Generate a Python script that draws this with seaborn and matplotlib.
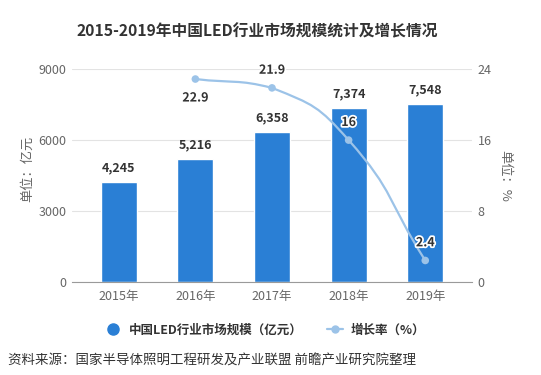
import numpy as np
import pandas as pd
import matplotlib
matplotlib.use('Agg')
import matplotlib.pyplot as plt
import matplotlib.patheffects as pe
from matplotlib.path import Path
from matplotlib.patches import PathPatch
from matplotlib.lines import Line2D
import seaborn as sns

# 数据
years = ['2015年', '2016年', '2017年', '2018年', '2019年']
market_size = [4245, 5216, 6358, 7374, 7548]  # 亿元
growth_years = ['2016年', '2017年', '2018年', '2019年']
growth_rate = [22.9, 21.9, 16, 2.4]  # %

sns.set_style('white')
plt.rcParams['font.family'] = ['Noto Sans CJK SC', 'DejaVu Sans']

bar_color = '#2a7fd5'
line_color = '#9cc3e8'
grid_color = '#e3e3e3'
tick_color = '#666666'
text_color = '#333333'

W, H = 541, 375
fig = plt.figure(figsize=(W / 100, H / 100), dpi=100)
ax = fig.add_axes([72 / W, 1 - 281.7 / H, 400 / W, 212.4 / H])

df = pd.DataFrame({'year': years, 'size': market_size})
sns.barplot(data=df, x='year', y='size', color=bar_color, saturation=1,
            width=0.47, ax=ax)
ax.set_xlim(-0.61, 4.61)
ax.set_ylim(0, 9000)
ax.set_yticks([0, 3000, 6000, 9000])
ax.grid(axis='y', color=grid_color, lw=0.8)
ax.set_axisbelow(True)
for s in ['top', 'right', 'left']:
    ax.spines[s].set_visible(False)
ax.spines['bottom'].set_color('#9a9a9a')
ax.tick_params(axis='x', length=4, width=0.8, color='#9a9a9a', labelsize=9,
               labelcolor=tick_color, pad=2)
ax.tick_params(axis='y', length=0, labelsize=9, labelcolor=tick_color, pad=4)
ax.set_xlabel('')
ax.set_ylabel('单位：亿元', color=tick_color, fontsize=9.5, va='center', ha='center')
ax.yaxis.set_label_coords(-0.11, 0.53)

# 柱子数值标签
for i, v in enumerate(market_size):
    ax.annotate(f'{v:,}', (i, v), xytext=(0, 5), textcoords='offset points',
                ha='center', va='bottom', fontsize=9, fontweight='bold',
                color=text_color)

# 增长率 (右轴)
ax2 = ax.twinx()
ax2.set_ylim(0, 24)
ax2.set_yticks([0, 8, 16, 24])
for s in ['top', 'right', 'left', 'bottom']:
    ax2.spines[s].set_visible(False)
ax2.tick_params(axis='y', length=0, labelsize=9, labelcolor=tick_color, pad=4)
ax2.set_ylabel('单位：%', color=tick_color, fontsize=9.5, rotation=-90,
               va='center', ha='center')
ax2.yaxis.set_label_coords(1.0825, 0.50)

pos = [years.index(y) for y in growth_years]

# 平滑曲线 (像素空间里计算贝塞尔控制点, y 方向不越过相邻点)
pts = ax2.transData.transform(np.column_stack([pos, growth_rate]))
smooth = 0.5
n = len(pts)
cps = []
for i in range(n):
    p = pts[i]
    prev = pts[i - 1] if i > 0 else p
    nxt = pts[i + 1] if i < n - 1 else p
    v = nxt - prev
    d0 = np.hypot(*(p - prev))
    d1 = np.hypot(*(p - nxt))
    tot = d0 + d1
    c0 = p - v * smooth * d0 / tot
    c1 = p + v * smooth * d1 / tot
    c0[1] = np.clip(c0[1], min(prev[1], p[1]), max(prev[1], p[1]))
    c1[1] = np.clip(c1[1], min(nxt[1], p[1]), max(nxt[1], p[1]))
    cps.append((c0, c1))
verts = [pts[0]]
codes = [Path.MOVETO]
for i in range(n - 1):
    verts += [cps[i][1], cps[i + 1][0], pts[i + 1]]
    codes += [Path.CURVE4] * 3
verts = ax2.transData.inverted().transform(np.array(verts))
ax2.add_patch(PathPatch(Path(verts, codes), facecolor='none',
                        edgecolor=line_color, lw=1.6, zorder=3))
sns.scatterplot(x=pos, y=growth_rate, ax=ax2, color=line_color, s=30,
                edgecolor='none', zorder=4, legend=False)

for i, (x, v) in enumerate(zip(pos, growth_rate)):
    dy = -9 if i == 0 else 8
    ax2.annotate(f'{v:g}', (x, v), xytext=(0, dy), textcoords='offset points',
                 ha='center', va='top' if dy < 0 else 'bottom', fontsize=9,
                 fontweight='bold', color=text_color, zorder=5,
                 path_effects=[pe.withStroke(linewidth=2.5, foreground='white')])

# 标题
fig.text(257 / W, 1 - 31 / H, '2015-2019年中国LED行业市场规模统计及增长情况',
         ha='center', va='center', fontsize=11.3, fontweight='bold',
         color=text_color)

# 图例
handles = [
    Line2D([], [], ls='none', marker='o', markersize=8, color=bar_color),
    Line2D([], [], color=line_color, lw=1.6, marker='o', markersize=5),
]
fig.legend(handles, ['中国LED行业市场规模（亿元）', '增长率（%）'],
           loc='center', bbox_to_anchor=(265 / W, 1 - 330 / H), ncol=2,
           frameon=False, handlelength=1.3, handletextpad=0.6, columnspacing=2,
           prop={'size': 9, 'weight': 'bold'}, labelcolor=text_color)

# 资料来源
fig.text(8 / W, 1 - 361 / H, '资料来源：国家半导体照明工程研发及产业联盟 前瞻产业研究院整理',
         ha='left', va='center', fontsize=9.7, color=text_color)

fig.savefig('out.png', dpi=100)
